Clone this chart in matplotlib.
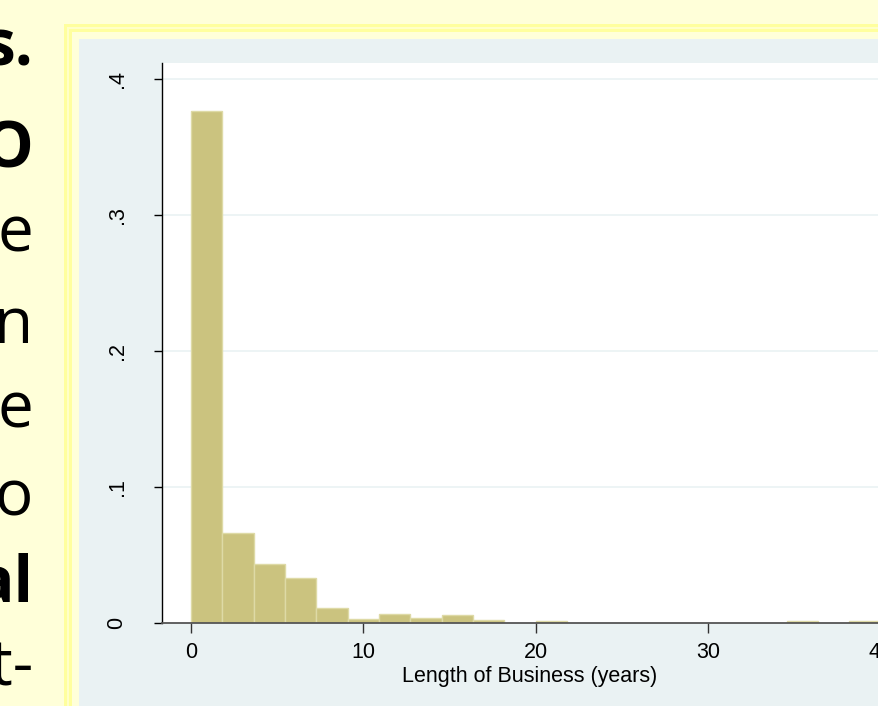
import numpy as np
import matplotlib
matplotlib.use("Agg")
import matplotlib.pyplot as plt
from matplotlib.patches import Rectangle

# histogram of length of business (density per bin)
bin_width = 1.818
densities = [0.3766, 0.0658, 0.0430, 0.0329, 0.0106, 0.0027, 0.0066, 0.0034,
             0.0054, 0.0020, 0.0, 0.0010, 0.0, 0.0, 0.0, 0.0, 0.0, 0.0, 0.0,
             0.0008, 0.0, 0.0008]
y_ticks = [0, 0.1, 0.2, 0.3, 0.4]
y_labels = ["0", ".1", ".2", ".3", ".4"]
x_ticks = [0, 10, 20, 30, 40]
x_label = "Length of Business (years)"

# fragments of the slide text cut off on the left
side_text = ["s.", "O", "e", "n", "e", "o", "al", "t-"]
side_bold = [True, True, False, False, False, False, True, False]
side_base = [65, 168, 251, 343, 428, 516, 601, 686]

W, H = 879, 706
fig = plt.figure(figsize=(W / 100, H / 100), dpi=100)
fig.patch.set_facecolor("#FFFFD9")

# background layer in pixel coordinates
bg = fig.add_axes([0, 0, 1, 1])
bg.set_xlim(0, W)
bg.set_ylim(H, 0)
bg.axis("off")
for x0, col in [(64, "#FFFF9E"), (66.7, "#FFFFC8"), (69.3, "#FFFF9E"),
                (72, "#FFFFD9"), (79, "#EAF2F3")]:
    y0 = x0 - 40
    bg.add_patch(Rectangle((x0, y0), W + 50 - x0, H + 50 - y0,
                           facecolor=col, edgecolor="none"))

for txt, bold, yb in zip(side_text, side_bold, side_base):
    bg.text(33, yb, txt, ha="right", va="baseline", fontsize=46,
            family="Open Sans", fontweight="bold" if bold else "normal",
            color="black")

# plot region
left, right, top, bottom = 162, 898, 63, 622.5
ax = fig.add_axes([left / W, (H - bottom) / H, (right - left) / W,
                   (bottom - top) / H])
ax.set_facecolor("white")

ax.set_ylim(0, 0.4117)
ax.set_xlim(-1.68, 41.0)

for yv in y_ticks[1:]:
    ax.axhline(yv, color="#EAF2F3", lw=1.2, zorder=0)

heights = np.array(densities)
lefts = bin_width * np.arange(len(heights))
keep = heights > 0
ax.bar(lefts[keep], heights[keep], width=bin_width, align="edge",
       facecolor="#CBC37F", edgecolor="#DEDAA6", linewidth=1.0, zorder=2)

for side in ["top", "right"]:
    ax.spines[side].set_visible(False)
ax.spines["left"].set_color("black")
ax.spines["left"].set_linewidth(1.0)
ax.spines["bottom"].set_color("#555555")
ax.spines["bottom"].set_linewidth(1.3)
ax.spines["bottom"].set_zorder(3)

ax.set_yticks(y_ticks)
ax.set_yticklabels(y_labels, rotation=90, va="center",
                   family="Liberation Sans", fontsize=15.5)
ax.tick_params(axis="y", length=5.8, width=1.0, color="black", pad=19)

ax.set_xticks(x_ticks)
ax.set_xticklabels([str(v) for v in x_ticks], family="Liberation Sans",
                   fontsize=15.5)
ax.tick_params(axis="x", length=7.2, width=1.0, color="#333333", pad=7)

ax.set_xlabel(x_label, family="Liberation Sans", fontsize=15.5)
ax.xaxis.set_label_coords(0.5, -(682 - bottom) / (bottom - top))
ax.xaxis.label.set_va("baseline")

fig.savefig("out.png", dpi=100, facecolor=fig.get_facecolor())
